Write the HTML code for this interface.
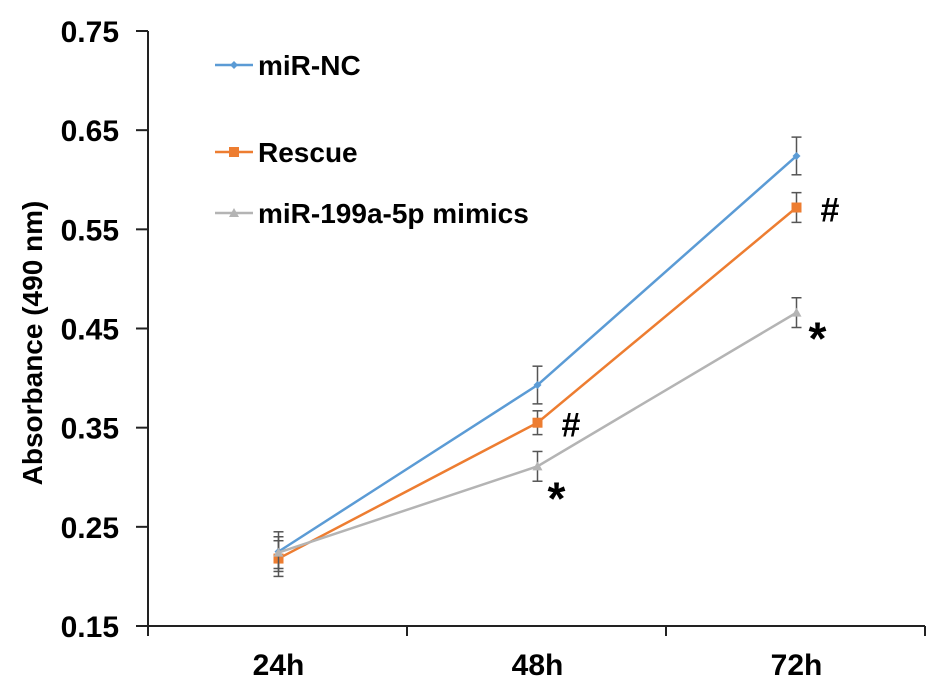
<!DOCTYPE html>
<html><head><meta charset="utf-8"><style>
body{margin:0;background:#fff}
svg{display:block;font-family:"Liberation Sans",Arial,sans-serif;font-weight:bold}
</style></head><body>
<svg id="chart" width="945" height="692"></svg>
<script>
const categories=["24h","48h","72h"];
const seriesNames=["miR-NC","Rescue","miR-199a-5p mimics"];
const ncValues=[0.225,0.393,0.624];
const rescueValues=[0.218,0.355,0.572];
const mimicValues=[0.224,0.311,0.466];
const ncErr=[0.02,0.019,0.019];
const rescueErr=[0.018,0.012,0.015];
const mimicErr=[0.016,0.015,0.015];
const yTicks=[0.15,0.25,0.35,0.45,0.55,0.65,0.75];
const yTickLabels=["0.15","0.25","0.35","0.45","0.55","0.65","0.75"];

const NS="http://www.w3.org/2000/svg";
const svg=document.getElementById('chart');
const x0=148,x1=925,yb=626,yt=31;
const bw=(x1-x0)/categories.length;
function X(i){return x0+bw*(i+0.5)+1;}
function Y(v){return yb-(v-0.15)/(0.75-0.15)*(yb-yt);}
function el(t,a,p){const e=document.createElementNS(NS,t);for(const k in a)e.setAttribute(k,a[k]);(p||svg).appendChild(e);return e;}

let ax=el('line',{x1:x0,y1:yt,x2:x0,y2:yb,stroke:'#222','stroke-width':2});


yTicks.forEach((v,i)=>{
  let t=el('line',{x1:x0-12,y1:Y(v),x2:x0,y2:Y(v),stroke:'#222','stroke-width':2});
  
  
  let l=el('text',{x:119,y:Y(v)+11,'text-anchor':'end','font-size':30});
  l.textContent=yTickLabels[i];
  
  
});
let xa=el('line',{x1:x0,y1:yb,x2:x1,y2:yb,stroke:'#222','stroke-width':2});


for(let i=0;i<=categories.length;i++){
  let t=el('line',{x1:x0+bw*i,y1:yb,x2:x0+bw*i,y2:yb+10,stroke:'#222','stroke-width':2});
  
  
}
categories.forEach((c,i)=>{
  let l=el('text',{x:X(i),y:675,'text-anchor':'middle','font-size':30});
  l.textContent=c;
  
  
});
let yt2=el('text',{x:0,y:0,'text-anchor':'middle','font-size':28,transform:'translate(42,343) rotate(-90)'});
yt2.textContent='Absorbance (490 nm)';



const series=[[ncValues,ncErr,'#5b9bd5','diamond'],[rescueValues,rescueErr,'#ed7d31','square'],[mimicValues,mimicErr,'#b4b4b4','triangle']];
function marker(x,y,shape,color,g){
  if(shape==='square')el('rect',{x:x-5,y:y-5,width:10,height:10,fill:color},g);
  else if(shape==='diamond')el('polygon',{points:`${x},${y-4} ${x+4},${y} ${x},${y+4} ${x-4},${y}`,fill:color},g);
  else el('polygon',{points:`${x},${y-5} ${x+5},${y+4} ${x-5},${y+4}`,fill:color},g);
}
series.forEach((s,si)=>{
  const g=el('g',{});
  
  
  s[0].forEach((v,i)=>{
    const x=X(i),a=Y(v+s[1][i]),b=Y(v-s[1][i]);
    el('line',{x1:x,y1:a,x2:x,y2:b,stroke:'#555','stroke-width':1.5},g);
    el('line',{x1:x-5,y1:a,x2:x+5,y2:a,stroke:'#555','stroke-width':1.5},g);
    el('line',{x1:x-5,y1:b,x2:x+5,y2:b,stroke:'#555','stroke-width':1.5},g);
  });
  el('polyline',{points:s[0].map((v,i)=>X(i)+','+Y(v)).join(' '),fill:'none',stroke:s[2],'stroke-width':2.5},g);
  s[0].forEach((v,i)=>marker(X(i),Y(v),s[3],s[2],g));
});
const ly=[65,152,213];
series.forEach((s,si)=>{
  const g=el('g',{});
  
  
  el('line',{x1:215,y1:ly[si],x2:253,y2:ly[si],stroke:s[2],'stroke-width':2.5},g);
  marker(234,ly[si],s[3],s[2],g);
  const t=el('text',{x:258,y:ly[si]+10,'font-size':28},g);
  t.textContent=seriesNames[si];
});
const marks=[['#',rescueValues,1,24,14],['#',rescueValues,2,24,14],['*',mimicValues,1,10,48],['*',mimicValues,2,12,42]];
marks.forEach(m=>{
  const t=el('text',{x:X(m[2])+m[3],y:Y(m[1][m[2]])+m[4],'font-size':m[0]==='*'?46:34,'font-weight':'900'});
  t.textContent=m[0];
  
  
});
</script>
</body></html>
